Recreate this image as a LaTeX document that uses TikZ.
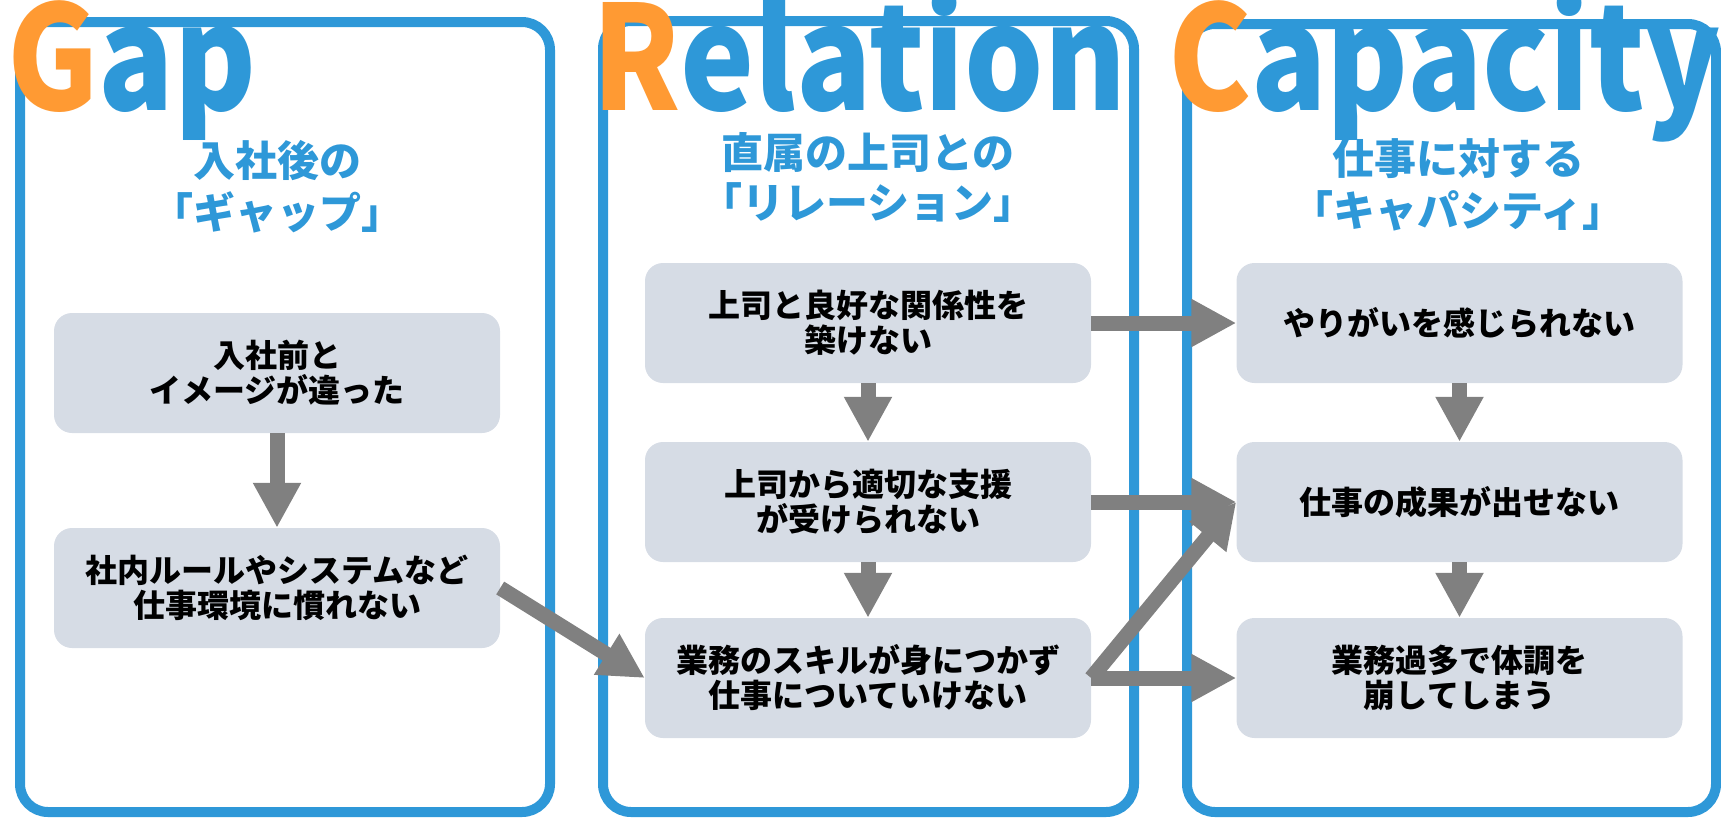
\documentclass[tikz,border=0pt]{standalone}
\usepackage{graphicx}
\usepackage{fontspec}
\setmainfont{Noto Sans CJK JP}
\usetikzlibrary{arrows.meta}
\definecolor{pblue}{HTML}{2E98D8}
\definecolor{porange}{HTML}{FF9A33}
\definecolor{agray}{HTML}{808080}
\definecolor{bfill}{HTML}{D6DCE5}
\newcommand{\bigtitle}[2]{\scalebox{0.86}[1]{\textcolor{porange}{#1}#2}}
\begin{document}
\begin{tikzpicture}[x=1pt,y=-1pt,
 panel/.style={draw=pblue,line width=10pt,rounded corners=28pt},
 box/.style={fill=bfill,rounded corners=18pt,minimum width=446pt,minimum height=120pt,inner sep=0pt,align=center,font=\fontsize{32}{35}\selectfont\bfseries},
 arr/.style={draw=agray,line width=15pt,-{Triangle[length=45pt,width=45pt]}},
 bigt/.style={anchor=base west,inner sep=0pt,text=pblue,font=\fontsize{145}{150}\selectfont\bfseries},
 subt/.style={text=pblue,inner sep=0pt,font=\fontsize{42}{51}\selectfont\bfseries}]
\useasboundingbox (0,0) rectangle (1721,817);
\draw[panel] (20,22) rectangle (550,812);
\draw[panel] (603,21) rectangle (1134,812);
\draw[panel] (1187,24) rectangle (1716,812);
% subtitles
\node[subt] (s1a) at (277,161) {入社後の};
\node[subt] (s1b) at (277,212) {「ギャップ」};
\node[subt] (s2a) at (868,152) {直属の上司との};
\node[subt] (s2b) at (868,203) {「リレーション」};
\node[subt] (s3a) at (1458,159) {仕事に対する};
\node[subt] (s3b) at (1458,211) {「キャパシティ」};
% boxes
\node[box] (A) at (277,373) {入社前と\\イメージが違った};
\node[box] (B) at (277,588) {社内ルールやシステムなど\\仕事環境に慣れない};
\node[box] (C) at (868,323) {上司と良好な関係性を\\築けない};
\node[box] (D) at (868,502) {上司から適切な支援\\が受けられない};
\node[box] (E) at (868,678) {業務のスキルが身につかず\\仕事についていけない};
\node[box] (F) at (1459.5,323) {やりがいを感じられない};
\node[box] (G) at (1459.5,502) {仕事の成果が出せない};
\node[box] (H) at (1459.5,678) {業務過多で体調を\\崩してしまう};
% arrows
\draw[arr] (A.south) -- (B.north);
\draw[arr] (B.east) -- (E.west);
\draw[arr] (C.south) -- (D.north);
\draw[arr] (D.south) -- (E.north);
\draw[arr] (C.east) -- (F.west);
\draw[arr] (D.east) -- (G.west);
\draw[arr] (E.east) -- (G.west);
\draw[arr] (E.east) -- (H.west);
\draw[arr] (F.south) -- (G.north);
\draw[arr] (G.south) -- (H.north);
% titles
\node[bigt] (tg) at (7,110) {\bigtitle{G}{ap}};
\node[bigt] (tr) at (592,110) {\bigtitle{R}{elation}};
\node[bigt] (tc) at (1168,110) {\bigtitle{C}{apacity}};
\end{tikzpicture}
\end{document}
